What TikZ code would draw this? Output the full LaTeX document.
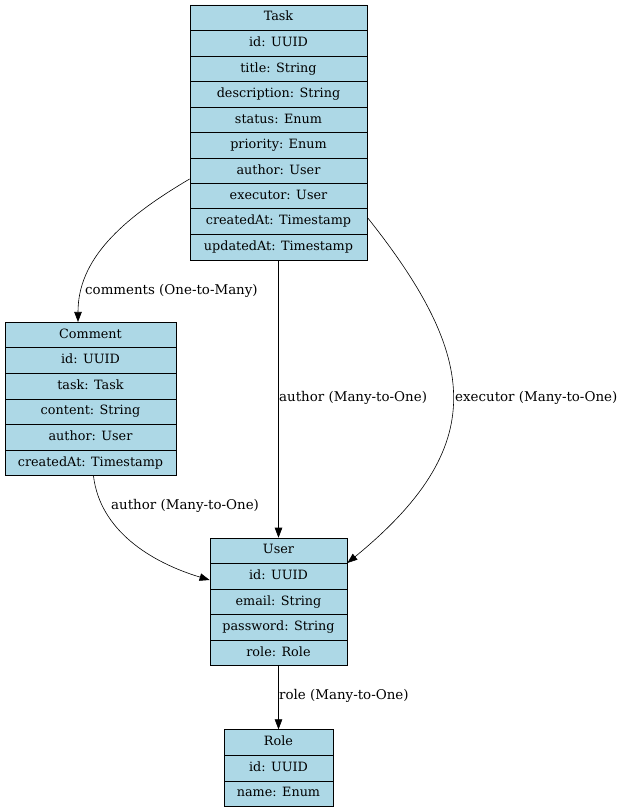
\documentclass[tikz,border=0pt]{standalone}
\usepackage{fontspec}
\setmainfont{DejaVu Serif}
\usetikzlibrary{shapes.multipart,arrows.meta,calc}
\definecolor{entityblue}{RGB}{173,216,230}
\newcommand{\rs}{\vrule height 9pt depth 3.3pt width 0pt}

\begin{document}
\begin{tikzpicture}[x=1pt, y=-1pt,
    entity/.style={rectangle split, rectangle split parts=#1, draw=black, line width=0.8pt,
      fill=entityblue, font=\fontsize{12.8}{14}\selectfont, align=center,
      inner ysep=5.9pt, inner xsep=4pt},
    rel/.style={-{Triangle[length=10pt,width=7.5pt]}, line width=0.6pt},
    lbl/.style={font=\fontsize{13.4}{15}\selectfont, inner sep=0pt, anchor=west}]
    %%%%% FRAME %%%%%
    \useasboundingbox (0,0) rectangle (621,812);

    %%%%% ENTITIES %%%%%
    \node[entity=10, minimum width=177pt] (task) at (278.5,132.5) {\rs Task
      \nodepart{two}\rs id: UUID
      \nodepart{three}\rs title: String
      \nodepart{four}\rs description: String
      \nodepart{five}\rs status: Enum
      \nodepart{six}\rs priority: Enum
      \nodepart{seven}\rs author: User
      \nodepart{eight}\rs executor: User
      \nodepart{nine}\rs createdAt: Timestamp
      \nodepart{ten}\rs updatedAt: Timestamp};

    \node[entity=6, minimum width=171pt] (comment) at (90.5,399) {\rs Comment
      \nodepart{two}\rs id: UUID
      \nodepart{three}\rs task: Task
      \nodepart{four}\rs content: String
      \nodepart{five}\rs author: User
      \nodepart{six}\rs createdAt: Timestamp};

    \node[entity=5, minimum width=137pt] (user) at (278.5,602) {\rs User
      \nodepart{two}\rs id: UUID
      \nodepart{three}\rs email: String
      \nodepart{four}\rs password: String
      \nodepart{five}\rs role: Role};

    \node[entity=3, minimum width=109pt] (role) at (278.5,768) {\rs Role
      \nodepart{two}\rs id: UUID
      \nodepart{three}\rs name: Enum};

    %%%%% RELATIONS %%%%%
    \draw[rel] ([yshift=-46.5pt]task.west) .. controls (120,220) and (78,260) .. ([xshift=-12.5pt]comment.north);
    \node[lbl] (lblcomments) at (85,291) {comments (One-to-Many)};

    \draw[rel] (task.south) -- (user.north);
    \node[lbl] (lblauthor) at (279,398) {author (Many-to-One)};

    \draw[rel] ([yshift=-85pt]task.east) .. controls (480,359) and (489,447) .. ([yshift=39pt]user.east);
    \node[lbl] (lblexecutor) at (455,398) {executor (Many-to-One)};

    \draw[rel] ([xshift=3pt]comment.south) .. controls (100,530) and (150,562) .. ([yshift=22pt]user.west);
    \node[lbl] (lblcommentauthor) at (111,506) {author (Many-to-One)};

    \draw[rel] (user.south) -- (role.north);
    \node[lbl] (lblrole) at (279,696) {role (Many-to-One)};
\end{tikzpicture}
\end{document}
